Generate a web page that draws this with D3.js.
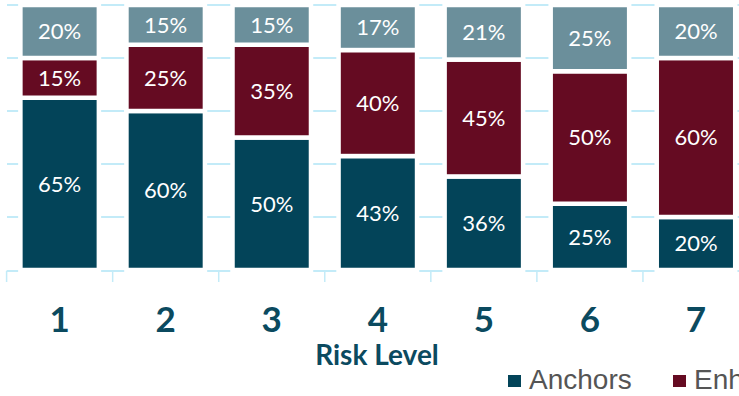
<!DOCTYPE html>
<html>
<head>
<meta charset="utf-8">
<script src="https://cdn.jsdelivr.net/npm/d3@7"></script>
<style>
html,body{margin:0;padding:0;background:#fff;overflow:hidden;}
svg{display:block;}
</style>
</head>
<body>
<svg id="chart" width="739" height="396"></svg>
<script>
const categories = ["1","2","3","4","5","6","7"];
const seriesNames = ["Anchors","Enhanced","Other"];
const anchors  = [65,60,50,43,36,25,20];
const enhanced = [15,25,35,40,45,50,60];
const other    = [20,15,15,17,21,25,20];
const yTicks = [0,0.2,0.4,0.6,0.8,1];
const colors = ["#034459","#650b22","#6b8f9b"];

const rows = categories.map((c,i)=>({cat:c, Anchors:anchors[i], Enhanced:enhanced[i], Other:other[i]}));
const stack = d3.stack().keys(seriesNames).offset(d3.stackOffsetExpand);
const layers = stack(rows);

const svg = d3.select("#chart");
const x = d3.scaleBand().domain(categories).range([6.6, 749]).paddingInner(0.26).paddingOuter(0.13);
const band = d3.scaleBand().domain(categories).range([6.6, 749]);
const y = d3.scaleLinear().domain([0,1]).range([270,5]);

// gridlines
svg.append("g").selectAll("line").data(yTicks.slice(1)).join("line")
  .attr("x1",7).attr("x2",739).attr("y1",d=>y(d)).attr("y2",d=>y(d))
  .attr("stroke","#c3ebf8").attr("stroke-width",2);

// baseline axis with ticks at band boundaries
const axis = svg.append("g");
axis.append("line").attr("x1",6.6).attr("x2",739).attr("y1",271).attr("y2",271)
  .attr("stroke","#c3ebf8").attr("stroke-width",2);
axis.selectAll("line.tk").data(categories).join("line").attr("class","tk")
  .attr("x1",d=>band(d)).attr("x2",d=>band(d)).attr("y1",271).attr("y2",282)
  .attr("stroke","#c3ebf8").attr("stroke-width",1.5);

// bars
const g = svg.append("g");
layers.forEach((layer,li)=>{
  g.append("g").selectAll("rect").data(layer).join("rect")
    .attr("x",d=>x(d.data.cat))
    .attr("width",x.bandwidth())
    .attr("y",d=>y(d[1]))
    .attr("height",d=>y(d[0])-y(d[1]))
    .attr("fill",colors[li])
    .attr("stroke","#fff").attr("stroke-width",4.5);
  g.append("g").selectAll("text").data(layer).join("text")
    .attr("x",d=>x(d.data.cat)+x.bandwidth()/2)
    .attr("y",d=>(y(d[0])+y(d[1]))/2)
    .attr("dy","0.36em")
    .attr("text-anchor","middle")
    .attr("fill","#fff")
    .attr("font-family","Lato, 'Open Sans', sans-serif")
    .attr("font-size",22)
    .text(d=>d.data[layer.key]+"%");
});

// category labels
svg.append("g").selectAll("text").data(categories).join("text")
  .attr("x",d=>x(d)+x.bandwidth()/2).attr("y",332)
  .attr("text-anchor","middle").attr("fill","#0b4a5f")
  .attr("font-family","Lato, sans-serif").attr("font-weight","bold").attr("font-size",35)
  .text(d=>d);

svg.append("text").attr("x",377).attr("y",365).attr("text-anchor","middle")
  .attr("fill","#0b4a5f").attr("font-family","Lato, sans-serif").attr("font-weight","bold")
  .attr("font-size",28).text("Risk Level");

// legend
const legendX = [508, 673, 850];
const lg = svg.append("g");
seriesNames.forEach((s,i)=>{
  lg.append("rect").attr("x",legendX[i]).attr("y",375).attr("width",13).attr("height",12).attr("fill",colors[i]);
  lg.append("text").attr("x",legendX[i]+21).attr("y",389).attr("fill","#555")
    .attr("font-family","'Liberation Sans', Arial, sans-serif").attr("font-size",28).text(s);
});
</script>
</body>
</html>
